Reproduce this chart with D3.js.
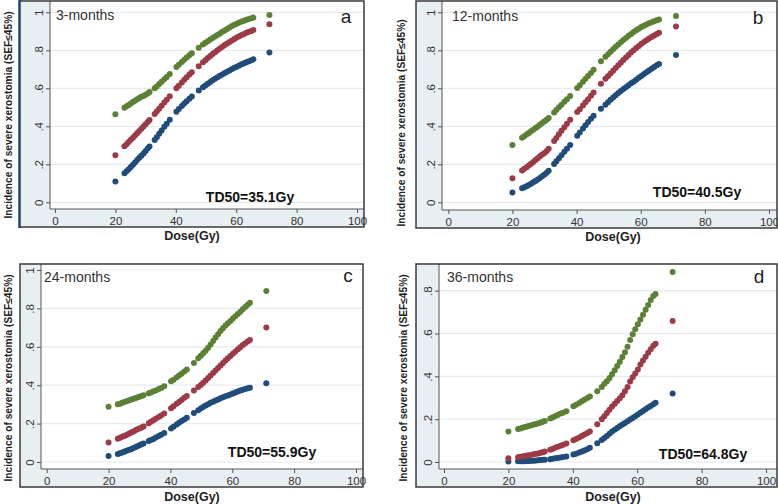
<!DOCTYPE html>
<html><head><meta charset="utf-8">
<script src="https://cdn.jsdelivr.net/npm/d3@7"></script>
<style>
html,body{margin:0;padding:0;background:#fff;}
svg{display:block;}
text{font-family:"Liberation Sans",Arial,sans-serif;}
</style></head>
<body>
<svg id="chart" width="778" height="504"></svg>
<script>
// ---------------- DATA ----------------
const doses = [20,23,23.7,24.4,25.1,25.8,26.5,27.2,27.9,28.6,29.3,30,30.7,31.3,33,33.7,34.5,35.3,36.2,37,38,40.2,41,42,42.8,43.6,44.5,45.3,47.6,49,49.8,50.6,51.4,52.2,53,53.8,54.6,55.4,56.2,57,57.8,58.6,59.4,60.2,61,61.8,62.6,63.4,64.2,65,65.7,71];

const panelNames = ["3-months","12-months","24-months","36-months"];
const panelLetters = ["a","b","c","d"];
const td50Labels = ["TD50=35.1Gy","TD50=40.5Gy","TD50=55.9Gy","TD50=64.8Gy"];
const xTicks = [0,20,40,60,80,100];
const yTicksFull = [0,.2,.4,.6,.8,1];
const yTicksD = [0,.2,.4,.6,.8];
const yTickLabels = ["0",".2",".4",".6",".8","1"];

// 3-months
const aGreen = [.463,.498,.505,.512,.520,.528,.535,.542,.549,.555,.560,.566,.573,.580,.600,.610,.622,.635,.648,.660,.675,.712,.724,.738,.750,.762,.774,.785,.814,.830,.840,.848,.857,.865,.873,.881,.889,.897,.904,.912,.920,.928,.934,.940,.946,.951,.956,.961,.965,.969,.972,.986];
const aRed   = [.247,.295,.306,.318,.329,.340,.352,.364,.375,.387,.399,.411,.423,.433,.465,.478,.493,.508,.525,.540,.558,.600,.614,.631,.645,.658,.672,.685,.716,.737,.748,.759,.770,.780,.790,.800,.810,.819,.828,.836,.844,.852,.860,.867,.874,.880,.886,.892,.897,.902,.907,.937];
const aBlue  = [.109,.153,.163,.174,.186,.198,.210,.222,.234,.245,.257,.270,.283,.294,.328,.343,.361,.378,.397,.414,.435,.477,.491,.507,.520,.532,.545,.557,.588,.605,.615,.624,.633,.642,.650,.658,.666,.673,.680,.687,.694,.701,.708,.714,.720,.726,.732,.737,.743,.748,.753,.788];
// 12-months
const bGreen = [.302,.340,.348,.357,.365,.374,.382,.391,.399,.408,.417,.426,.435,.444,.473,.486,.500,.514,.529,.543,.560,.602,.616,.634,.650,.665,.681,.697,.742,.766,.779,.792,.806,.819,.831,.843,.854,.865,.876,.886,.896,.905,.914,.922,.929,.936,.942,.948,.953,.958,.962,.980];
const bRed   = [.126,.167,.176,.185,.194,.203,.212,.222,.232,.242,.252,.260,.270,.282,.322,.339,.358,.376,.395,.413,.434,.475,.490,.509,.526,.543,.561,.578,.624,.650,.664,.678,.692,.707,.721,.735,.749,.762,.775,.788,.800,.812,.823,.834,.844,.853,.862,.870,.878,.886,.892,.925];
const bBlue  = [.051,.074,.079,.085,.091,.098,.105,.112,.120,.128,.137,.146,.155,.166,.202,.216,.232,.248,.266,.282,.302,.350,.367,.388,.405,.422,.440,.456,.492,.514,.527,.540,.552,.564,.575,.586,.596,.606,.616,.626,.635,.645,.655,.665,.675,.685,.694,.703,.712,.721,.728,.775];
// 24-months
const cGreen = [.288,.301,.304,.308,.312,.316,.320,.324,.328,.332,.336,.340,.344,.348,.358,.362,.368,.373,.380,.386,.394,.420,.429,.440,.450,.460,.471,.482,.516,.540,.553,.566,.580,.595,.612,.630,.648,.666,.682,.697,.711,.723,.735,.747,.759,.771,.783,.795,.807,.819,.830,.890];
const cRed   = [.102,.121,.126,.131,.136,.141,.147,.152,.158,.164,.170,.175,.180,.185,.202,.209,.217,.225,.234,.242,.252,.280,.290,.303,.313,.323,.334,.344,.372,.390,.401,.413,.425,.437,.450,.463,.476,.489,.502,.515,.528,.540,.552,.564,.576,.587,.598,.609,.619,.628,.636,.701];
const cBlue  = [.031,.042,.046,.050,.054,.058,.063,.067,.072,.077,.082,.087,.092,.096,.109,.114,.120,.127,.135,.142,.151,.175,.184,.195,.204,.213,.222,.230,.255,.270,.278,.286,.294,.301,.308,.314,.320,.326,.332,.337,.342,.347,.352,.357,.362,.367,.372,.376,.380,.384,.387,.410];
// 36-months
const dGreen = [.142,.154,.157,.160,.163,.166,.169,.172,.175,.178,.181,.185,.188,.192,.203,.208,.214,.220,.226,.230,.237,.260,.267,.276,.284,.291,.299,.306,.330,.350,.365,.377,.392,.410,.428,.448,.468,.490,.512,.538,.570,.597,.620,.643,.666,.688,.711,.733,.756,.775,.785,.887];
const dRed   = [.017,.022,.024,.026,.028,.030,.032,.034,.036,.038,.040,.043,.046,.049,.057,.061,.066,.071,.076,.080,.086,.101,.107,.114,.121,.128,.135,.143,.176,.200,.214,.229,.244,.259,.272,.285,.298,.312,.330,.350,.376,.396,.413,.432,.455,.474,.492,.510,.527,.543,.552,.658];
const dBlue  = [.002,.003,.003,.004,.004,.005,.005,.006,.006,.007,.008,.009,.010,.011,.013,.015,.017,.019,.021,.023,.026,.035,.039,.044,.049,.054,.060,.066,.088,.103,.112,.122,.132,.142,.151,.159,.167,.175,.182,.190,.198,.206,.214,.222,.230,.238,.246,.254,.262,.270,.277,.320];

const seriesColors = {green:"#5b8134", red:"#9c3a46", blue:"#1f4c7a"};

// ---------------- LAYOUT ----------------
const panels = [
  {name:panelNames[0], letter:panelLetters[0], td:td50Labels[0], series:[aBlue,aRed,aGreen],
   frame:[20,1,364,227], yAx:50, xAx:209, xr:[55,357], ydom:[0,1], yr:[202.3,12.3], yt:yTicksFull,
   ytitle:[12,115], dose:[192,240], nameP:[56,20], letterP:[346,23], tdP:[250,202]},
  {name:panelNames[1], letter:panelLetters[1], td:td50Labels[1], series:[bBlue,bRed,bGreen],
   frame:[416,1,777,228], yAx:442, xAx:210, xr:[448.3,769], ydom:[0,1], yr:[202.3,12.3], yt:yTicksFull,
   ytitle:[405,123], dose:[613,241], nameP:[452,21], letterP:[758,24], tdP:[697,197]},
  {name:panelNames[2], letter:panelLetters[2], td:td50Labels[2], series:[cBlue,cRed,cGreen],
   frame:[20,264,363,487], yAx:41, xAx:469, xr:[46.7,356], ydom:[0,1], yr:[462,270], yt:yTicksFull,
   ytitle:[12,378], dose:[192,501], nameP:[44,282], letterP:[348,282], tdP:[272,457]},
  {name:panelNames[3], letter:panelLetters[3], td:td50Labels[3], series:[dBlue,dRed,dGreen],
   frame:[416,264,777,487], yAx:439, xAx:469, xr:[444,766], ydom:[0,.8], yr:[462,290.7], yt:yTicksD,
   ytitle:[407,378], dose:[613,501], nameP:[447,282], letterP:[759,283], tdP:[703,459]}
];
const colorOrder = [seriesColors.blue, seriesColors.red, seriesColors.green];
const bgCol = "#e7eff3", gridCol = "#e3ebef", axisCol = "#555";

const svg = d3.select("#chart");

// left blue bar of panel a
svg.append("rect").attr("x",18).attr("y",0).attr("width",3.5).attr("height",228).attr("fill","#3c6dbf");

panels.forEach(p => {
  const [fx0,fy0,fx1,fy1] = p.frame;
  const g = svg.append("g");
  g.append("rect").attr("x",fx0).attr("y",fy0).attr("width",fx1-fx0).attr("height",fy1-fy0)
    .attr("fill",bgCol);
  // plot region
  g.append("rect").attr("x",p.yAx).attr("y",fy0).attr("width",fx1-p.yAx).attr("height",p.xAx-fy0)
    .attr("fill","#fff");

  const x = d3.scaleLinear().domain([0,100]).range(p.xr);
  const y = d3.scaleLinear().domain(p.ydom).range(p.yr);

  // gridlines
  g.selectAll(".grid").data(p.yt).enter().append("line")
    .attr("x1",p.yAx).attr("x2",fx1).attr("y1",d=>y(d)).attr("y2",d=>y(d))
    .attr("stroke",gridCol).attr("stroke-width",1.2);

  // axes
  const xa = g.append("g").attr("transform",`translate(0,${p.xAx})`)
    .call(d3.axisBottom(x).tickValues(xTicks).tickSize(4).tickPadding(4).tickFormat(d3.format("d")));
  xa.select(".domain").attr("d",`M${p.yAx},0H${fx1}`).attr("stroke",axisCol);
  xa.selectAll(".tick line").attr("stroke",axisCol);
  xa.selectAll(".tick text").attr("font-size",11.5).attr("fill","#333")
    .attr("font-family","'Liberation Sans',Arial,sans-serif");

  const ya = g.append("g").attr("transform",`translate(${p.yAx},0)`)
    .call(d3.axisLeft(y).tickValues(p.yt).tickSize(4).tickFormat((d,i)=>yTickLabels[i]));
  ya.select(".domain").attr("d",`M0,${fy0}V${p.xAx}`).attr("stroke",axisCol);
  ya.selectAll(".tick line").attr("stroke",axisCol);
  ya.selectAll(".tick text").attr("font-size",11.5).attr("fill","#333")
    .attr("font-family","'Liberation Sans',Arial,sans-serif")
    .attr("text-anchor","middle").attr("x",null).attr("dy",null)
    .attr("transform","translate(-7,0) rotate(-90)");

  // points
  p.series.forEach((vals,si) => {
    g.selectAll(null).data(doses.map((dd,i)=>[dd,vals[i]])).enter().append("circle")
      .attr("cx",d=>x(d[0])).attr("cy",d=>y(d[1])).attr("r",3)
      .attr("fill",colorOrder[si]);
  });

  // frame border
  g.append("rect").attr("x",fx0).attr("y",fy0).attr("width",fx1-fx0).attr("height",fy1-fy0)
    .attr("fill","none").attr("stroke","#3a3a3a").attr("stroke-width",1.5);

  // texts
  g.append("text").attr("x",p.nameP[0]).attr("y",p.nameP[1]).text(p.name)
    .attr("font-size",14).attr("fill","#333").attr("font-family","'Open Sans','Liberation Sans',sans-serif");
  g.append("text").attr("x",p.letterP[0]).attr("y",p.letterP[1]).text(p.letter)
    .attr("font-size",19).attr("fill","#222").attr("text-anchor","middle").attr("font-family","'Open Sans','Liberation Sans',sans-serif");
  g.append("text").attr("x",p.tdP[0]).attr("y",p.tdP[1]).text(p.td)
    .attr("font-size",14).attr("font-weight","bold").attr("fill","#111").attr("text-anchor","middle")
    .attr("font-family","'Open Sans','Liberation Sans',sans-serif");
  g.append("text").attr("x",p.dose[0]).attr("y",p.dose[1]).text("Dose(Gy)")
    .attr("font-size",12.5).attr("font-weight","bold").attr("fill","#222").attr("text-anchor","middle")
    .attr("font-family","'Open Sans','Liberation Sans',sans-serif");
  g.append("text").attr("transform",`translate(${p.ytitle[0]},${p.ytitle[1]}) rotate(-90)`)
    .text("Incidence of severe xerostomia  (SEF≤45%)")
    .attr("font-size",10.2).attr("font-weight","bold").attr("fill","#222").attr("text-anchor","middle")
    .attr("font-family","'Liberation Sans',Arial,sans-serif");
});
</script>
</body></html>
